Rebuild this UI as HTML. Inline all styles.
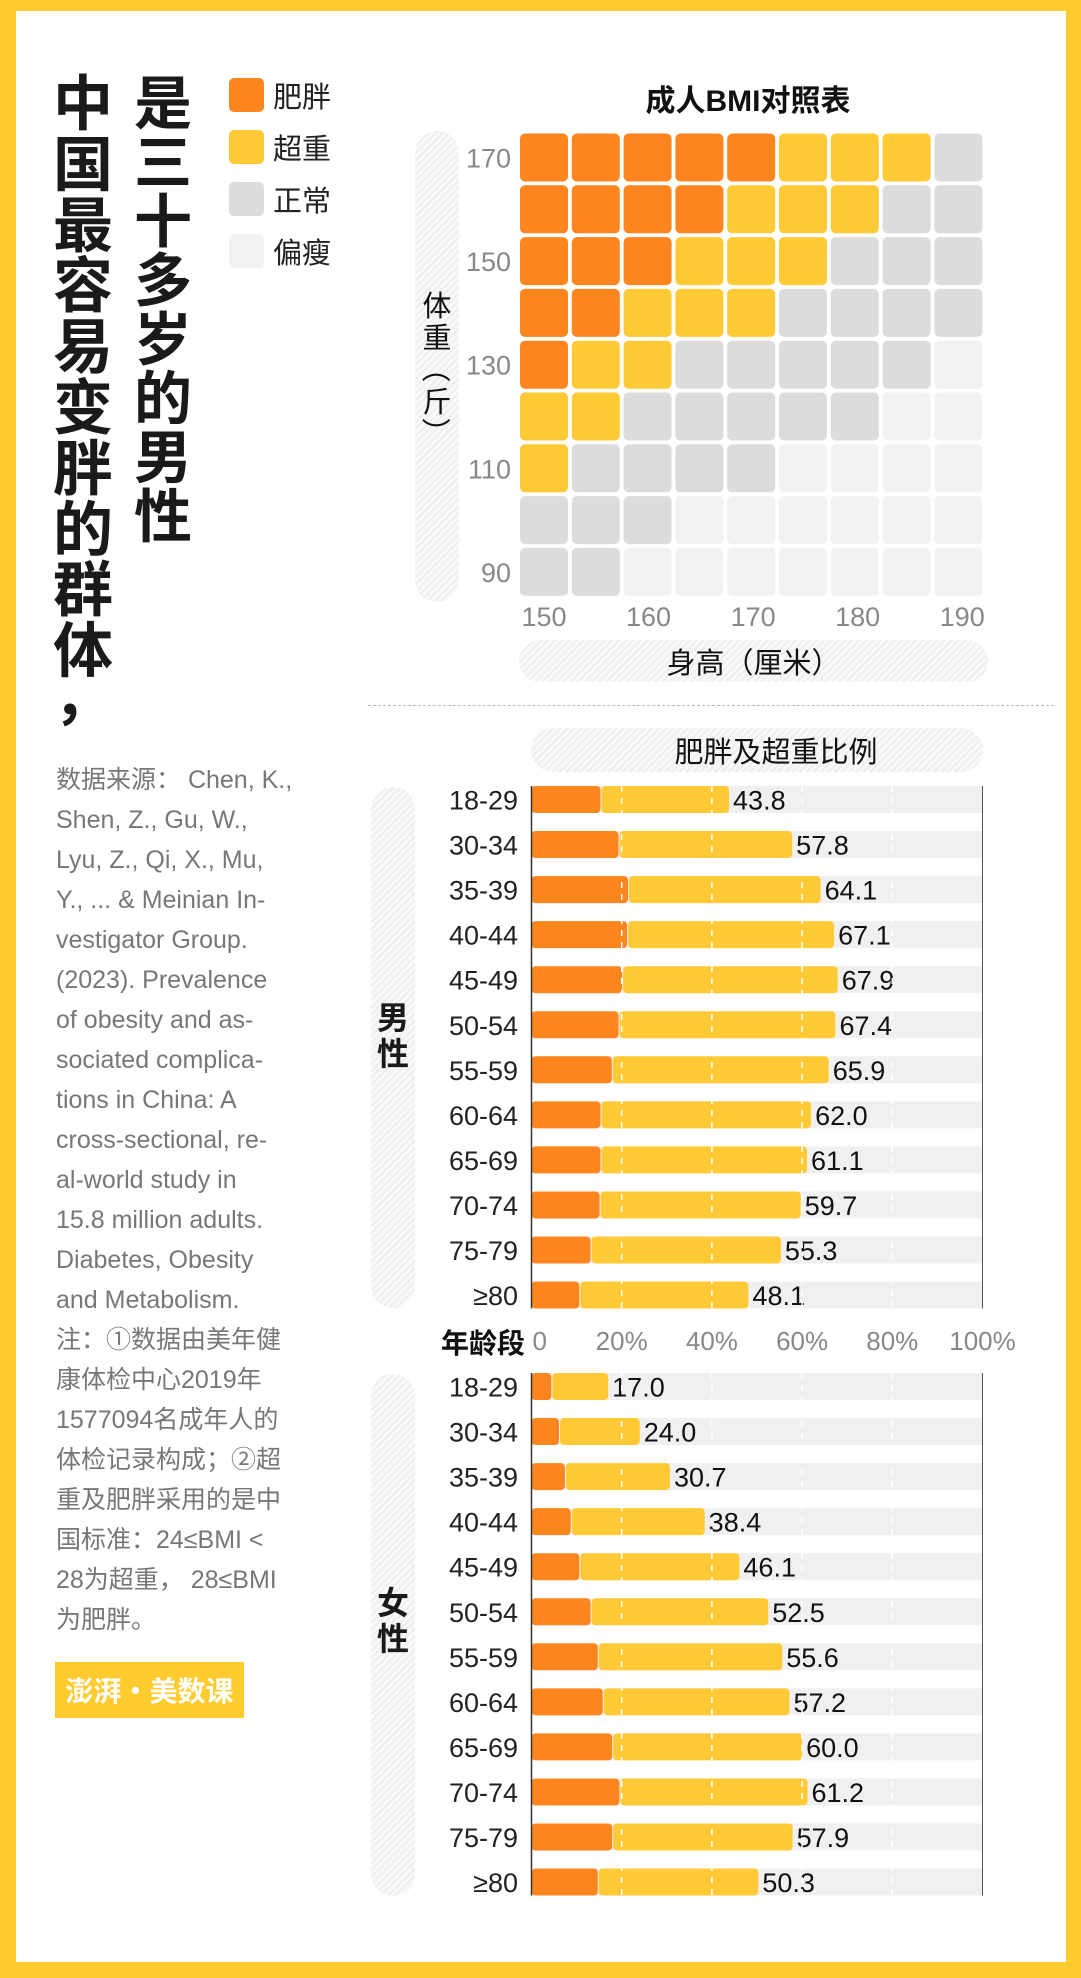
<!DOCTYPE html>
<html><head><meta charset="utf-8">
<style>
*{margin:0;padding:0;box-sizing:border-box}
body{width:1081px;height:1978px;background:#FFCB2F;position:relative;overflow:hidden;font-family:"Liberation Sans","Noto Sans CJK SC",sans-serif}
#inner{position:absolute;left:16px;top:11px;width:1050px;height:1951px;background:#fff}
.abs{position:absolute}
.vcol{position:absolute;font-weight:bold;color:#1a1a1a;text-align:center;font-family:"Noto Sans CJK SC",sans-serif}
.vcol span{display:block}
.pill{position:absolute;border-radius:24px;background:repeating-linear-gradient(135deg,#eee 0 2px,#f9f9f9 2px 5px)}
.sw{position:absolute;left:229px;width:35px;height:34px;border-radius:5px}
.lg{position:absolute;left:273px;font-size:29px;color:#222;line-height:34px;font-family:"Noto Sans CJK SC",sans-serif}
#src{position:absolute;left:56px;top:760px;width:270px;font-size:25px;line-height:40px;color:#777;font-family:"Liberation Sans","Noto Sans CJK SC",sans-serif;white-space:nowrap}
</style></head><body>
<div id="inner"></div>
<div class="vcol" style="left:50px;top:70px;width:66px;font-size:60px;line-height:60.8px">
<span>中</span><span>国</span><span>最</span><span>容</span><span>易</span><span>变</span><span>胖</span><span>的</span><span>群</span><span>体</span><span style="line-height:30px">，</span></div>
<div class="vcol" style="left:131px;top:70px;width:64px;font-size:58px;line-height:59px">
<span>是</span><span>三</span><span>十</span><span>多</span><span>岁</span><span>的</span><span>男</span><span>性</span></div>
<div class="sw" style="top:78px;background:#FF861E"></div>
<div class="lg" style="top:78px">肥胖</div>
<div class="sw" style="top:130px;background:#FFCA35"></div>
<div class="lg" style="top:130px">超重</div>
<div class="sw" style="top:182px;background:#DCDCDC"></div>
<div class="lg" style="top:182px">正常</div>
<div class="sw" style="top:234px;background:#F2F2F2"></div>
<div class="lg" style="top:234px">偏瘦</div>

<div id="src">数据来源： Chen, K.,<br>Shen, Z., Gu, W.,<br>Lyu, Z., Qi, X., Mu,<br>Y., ... &amp; Meinian In-<br>vestigator Group.<br>(2023). Prevalence<br>of obesity and as-<br>sociated complica-<br>tions in China: A<br>cross-sectional, re-<br>al-world study in<br>15.8 million adults.<br>Diabetes, Obesity<br>and Metabolism.<br>注：①数据由美年健<br>康体检中心2019年<br>1577094名成年人的<br>体检记录构成；②超<br>重及肥胖采用的是中<br>国标准：24≤BMI &lt;<br>28为超重， 28≤BMI<br>为肥胖。</div>
<div class="abs" style="left:55px;top:1662px;width:189px;height:56px;background:#FFCB2F;color:#fff;font-size:28px;font-weight:bold;line-height:56px;text-align:center;white-space:nowrap;font-family:'Noto Sans CJK SC',sans-serif">澎湃·美数课</div>

<div class="abs" style="left:548px;top:76px;width:400px;text-align:center;font-size:30px;font-weight:bold;color:#111;font-family:'Liberation Sans','Noto Sans CJK SC',sans-serif">成人BMI对照表</div>
<div class="pill" style="left:415px;top:131px;width:44px;height:471px"></div>
<div class="vcol" style="left:415px;top:288px;width:44px;font-size:29px;line-height:32px;font-weight:normal;color:#111"><span>体</span><span>重</span><span style="transform:rotate(90deg)">（</span><span>斤</span><span style="transform:rotate(90deg)">）</span></div>
<div class="pill" style="left:519px;top:640px;width:469px;height:42px"></div>
<div class="abs" style="left:519px;top:640px;width:469px;line-height:42px;text-align:center;font-size:29px;color:#111;font-family:'Noto Sans CJK SC',sans-serif">身高（厘米）</div>
<svg id="heat" class="abs" style="left:0;top:0" width="1081" height="720"></svg>

<div class="abs" style="left:368px;top:705px;width:686px;border-top:1px dashed #bbb"></div>
<div class="pill" style="left:531px;top:728px;width:452px;height:44px"></div>
<div class="abs" style="left:531px;top:728px;width:490px;line-height:44px;text-align:center;font-size:29px;color:#111;font-family:'Noto Sans CJK SC',sans-serif">肥胖及超重比例</div>
<div class="pill" style="left:371px;top:787px;width:44px;height:521px"></div>
<div class="vcol" style="left:371px;top:998px;width:44px;font-size:32px;line-height:36px"><span>男</span><span>性</span></div>
<div class="pill" style="left:371px;top:1374px;width:44px;height:522px"></div>
<div class="vcol" style="left:371px;top:1583px;width:44px;font-size:32px;line-height:36px"><span>女</span><span>性</span></div>
<div class="abs" style="left:425px;top:1322px;width:100px;text-align:right;font-size:28px;font-weight:bold;color:#111;font-family:'Noto Sans CJK SC',sans-serif">年龄段</div>
<svg id="bars" class="abs" style="left:0;top:0" width="1081" height="1978"></svg>

<script>
const NS='http://www.w3.org/2000/svg';
// heatmap data: rows top (170) to bottom (90), cols 150..190; 3 obese,2 overweight,1 normal,0 thin
const heatRows=[
[3,3,3,3,3,2,2,2,1],
[3,3,3,3,2,2,2,1,1],
[3,3,3,2,2,2,1,1,1],
[3,3,2,2,2,1,1,1,1],
[3,2,2,1,1,1,1,1,0],
[2,2,1,1,1,1,1,0,0],
[2,1,1,1,1,0,0,0,0],
[1,1,1,0,0,0,0,0,0],
[1,1,0,0,0,0,0,0,0]];
const heatYTicks=['170','150','130','110','90'];
const heatXTicks=['150','160','170','180','190'];
const catColors=['#F2F2F2','#DCDCDC','#FFCA35','#FF861E'];
function el(svg,tag,attrs){const e=document.createElementNS(NS,tag);for(const k in attrs)e.setAttribute(k,attrs[k]);svg.appendChild(e);return e;}
const heat=document.getElementById('heat');
const hx0=520,hy0=133.5,hp=51.8,hc=48;
const hcol=i=>hx0+i*hp, hrow=j=>hy0+j*hp;
heatRows.forEach((row,j)=>row.forEach((v,i)=>{
 const r=el(heat,'rect',{x:hcol(i),y:hrow(j),width:hc,height:hc,rx:5,fill:catColors[v]});
 
 
}));
heatYTicks.forEach((t,k)=>{
 const tx=el(heat,'text',{x:511,y:hrow(k*2)+hc/2+10,'text-anchor':'end','font-size':27,fill:'#888','font-family':'Liberation Sans'});
 tx.textContent=t;
 
 
});
heatXTicks.forEach((t,k)=>{
 const cx=hx0+hc/2+k*(hp*9-hc)/4;
 const tx=el(heat,'text',{x:cx,y:626,'text-anchor':'middle','font-size':27,fill:'#888','font-family':'Liberation Sans'});
 tx.textContent=t;
 
 
});

// bar data
const ages=['18-29','30-34','35-39','40-44','45-49','50-54','55-59','60-64','65-69','70-74','75-79','≥80'];
const maleTotal=[43.8,57.8,64.1,67.1,67.9,67.4,65.9,62.0,61.1,59.7,55.3,48.1];
const maleObese=[15.3,19.3,21.4,21.2,20.1,19.3,17.8,15.3,15.3,15.1,13.1,10.6];
const femaleTotal=[17.0,24.0,30.7,38.4,46.1,52.5,55.6,57.2,60.0,61.2,57.9,50.3];
const femaleObese=[4.4,6.1,7.4,8.7,10.6,13.1,14.7,15.8,17.9,19.5,17.9,14.7];
const pctTicks=[0,20,40,60,80,100];
const bars=document.getElementById('bars');
const ax0=531.5,ax1=982.5;
const X=v=>ax0+(ax1-ax0)*v/100;
const bh=27,pitch=45.05;
function group(y0,obese,total,name){
 ages.forEach((a,i)=>{
  const y=y0+i*pitch;
  let r=el(bars,'rect',{x:ax0,y:y,width:ax1-ax0,height:bh,fill:'#F0F0F0'});
  
  
  r=el(bars,'rect',{x:X(obese[i])+1,y:y,width:X(total[i])-X(obese[i])-1,height:bh,rx:4,fill:'#FFCA35'});
  
  
  r=el(bars,'rect',{x:ax0,y:y,width:X(obese[i])-ax0,height:bh,rx:4,fill:'#FF861E'});
  
  
  let t=el(bars,'text',{x:518,y:y+bh/2+10,'text-anchor':'end','font-size':27,fill:'#222','font-family':'Liberation Sans'});
  t.textContent=a;
  
  
  t=el(bars,'text',{x:X(total[i])+4,y:y+bh/2+10,'font-size':27,fill:'#111','font-family':'Liberation Sans'});
  t.textContent=total[i].toFixed(1);
  
  
 });
 [20,40,60,80].forEach(p=>{
  const g=el(bars,'line',{x1:X(p),x2:X(p),y1:y0,y2:y0+11*pitch+bh,stroke:'#fff','stroke-width':1.5,'stroke-dasharray':'6 6'});
  
  
 });
 let l=el(bars,'line',{x1:ax0,x2:ax0,y1:y0,y2:y0+11*pitch+bh,stroke:'#333','stroke-width':1.5});
 
 
 l=el(bars,'line',{x1:ax1,x2:ax1,y1:y0,y2:y0+11*pitch+bh,stroke:'#555','stroke-width':1});
 
 
}
group(786,maleObese,maleTotal,'male');
group(1373,femaleObese,femaleTotal,'female');
pctTicks.forEach(p=>{
 const t=el(bars,'text',{x:p===0?X(0)+1:X(p),y:1350,'text-anchor':p===0?'start':'middle','font-size':26,fill:'#888','font-family':'Liberation Sans'});
 t.textContent=p===0?'0':p+'%';
 
 
});
</script>
</body></html>
